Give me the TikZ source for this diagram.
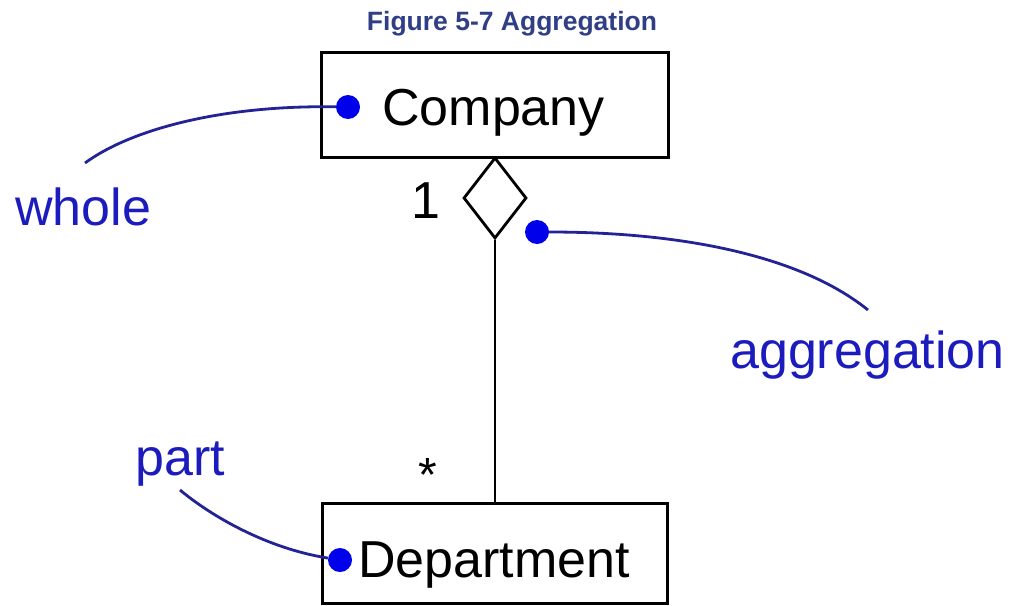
\documentclass[tikz,border=0pt]{standalone}
\usepackage{fontspec}
\setmainfont{Liberation Sans}
\usetikzlibrary{shapes.geometric}
\definecolor{titleblue}{RGB}{47,62,133}
\definecolor{noteblue}{RGB}{28,28,190}
\definecolor{dotblue}{RGB}{0,0,235}
\definecolor{curveblue}{RGB}{35,35,150}
\begin{document}
\begin{tikzpicture}[x=1pt,y=-1pt,
  classbox/.style={draw=black, line width=3pt, inner sep=0pt},
  classtext/.style={font=\fontsize{52}{60}\selectfont, inner sep=0pt, text=black},
  notetext/.style={font=\fontsize{52}{60}\selectfont, inner sep=0pt, text=noteblue},
  multtext/.style={inner sep=0pt, text=black},
  notedot/.style={circle, fill=dotblue, minimum size=24pt, inner sep=0pt},
  notecurve/.style={draw=curveblue, line width=2.8pt},
  assoc/.style={draw=black, line width=2.6pt},
  titletext/.style={font=\fontsize{26.5}{30}\selectfont\bfseries, text=titleblue, inner sep=0pt}]
\fill[white] (0,0) rectangle (1014,605);
\useasboundingbox (0,0) rectangle (1014,605);

% title
\node[titletext, anchor=base] (title) at (512,30) {Figure 5-7 Aggregation};

% class boxes
\node[classbox, minimum width=347pt, minimum height=105pt] (company) at (494.5,104.5) {};
\node[classbox, minimum width=345pt, minimum height=100pt] (dept) at (494.5,553) {};
\node[classtext, anchor=base] (companytext) at (493.5,125) {Company};
\node[classtext, anchor=base] (depttext) at (494,577) {Department};

% aggregation diamond and association line
\node[diamond, draw=black, line width=2.8pt, fill=white, minimum width=63pt, minimum height=81pt, inner sep=0pt] (aggdiamond) at (495,198) {};
\draw[assoc] (aggdiamond.south) -- (aggdiamond.south |- dept.north);

% multiplicities
\node[multtext, font=\fontsize{52}{60}\selectfont, anchor=base] (one) at (426,218) {1};
\node[multtext, font=\fontsize{48}{56}\selectfont, anchor=base] (many) at (427.5,491) {*};

% note dots
\node[notedot] (wholedot) at (348,107) {};
\node[notedot] (aggdot) at (537,232) {};
\node[notedot] (deptdot) at (340,560) {};

% note curve ends
\coordinate (wholeend) at (85,163);
\coordinate (aggend) at (868,310);
\coordinate (partend) at (180,490);

% note curves
\draw[notecurve] (wholedot) .. controls (220,105) and (130,130) .. (wholeend);
\draw[notecurve] (aggdot) .. controls (680,232) and (800,255) .. (aggend);
\draw[notecurve] (partend) .. controls (210,515) and (265,548) .. (deptdot);

% note texts
\node[notetext, anchor=base west] (whole) at (15,225) {whole};
\node[notetext, anchor=base west] (aggregation) at (730,368) {aggregation};
\node[notetext, anchor=base west] (part) at (135,475) {part};
\end{tikzpicture}
\end{document}
